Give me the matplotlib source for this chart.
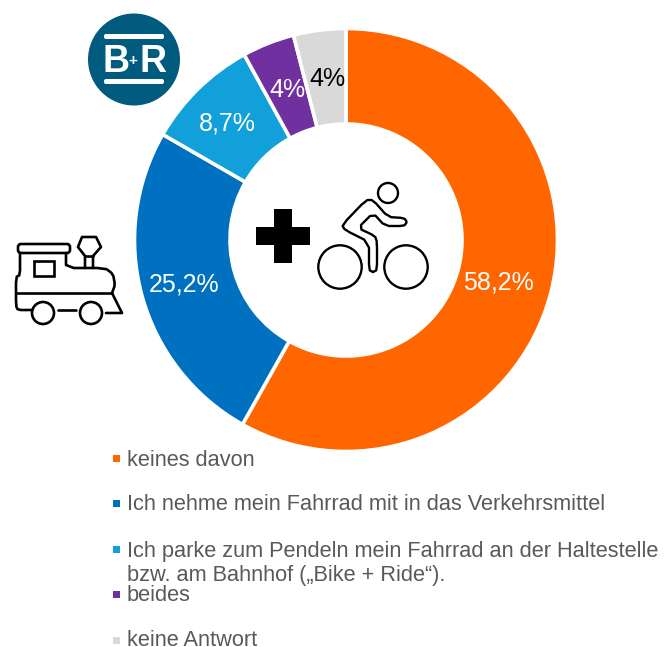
import matplotlib
matplotlib.use('Agg')
import matplotlib.pyplot as plt
from matplotlib.patches import Circle, Rectangle, Polygon, FancyBboxPatch

plt.rcParams['font.family'] = ['Liberation Sans', 'DejaVu Sans']

categories = ['keines davon',
              'Ich nehme mein Fahrrad mit in das Verkehrsmittel',
              'Ich parke zum Pendeln mein Fahrrad an der Haltestelle\nbzw. am Bahnhof („Bike + Ride“).',
              'beides',
              'keine Antwort']
values = [58.2, 25.2, 8.7, 4, 4]
value_labels = ['58,2%', '25,2%', '8,7%', '4%', '4%']
colors = ['#ff6600', '#0070c0', '#11a0d9', '#7030a0', '#d9d9d9']
label_colors = ['white', 'white', 'white', 'white', 'black']
label_nudge = [(-5, -1), (-5, -1), (-5, 0), (1, -1), (2, -1)]
legend_y = [460, 505, 563.5, 595.5, 640]

fig = plt.figure(figsize=(6.65, 6.47), dpi=100)
ax = fig.add_axes([0, 0, 1, 1])


def py(y):
    # picture coordinates have y going down
    return 647 - y


def smooth(points, rounds=1):
    # cut the corners so the icons look rounded
    for _ in range(rounds):
        new = [points[0]]
        for a, b in zip(points[:-1], points[1:]):
            new.append((0.8 * a[0] + 0.2 * b[0], 0.8 * a[1] + 0.2 * b[1]))
            new.append((0.2 * a[0] + 0.8 * b[0], 0.2 * a[1] + 0.8 * b[1]))
        new.append(points[-1])
        points = new
    return points


def line(points, lw=1.9):
    xs = [p[0] for p in points]
    ys = [py(p[1]) for p in points]
    ax.plot(xs, ys, color='black', lw=lw, solid_capstyle='round', solid_joinstyle='round')


wedges, texts = ax.pie(values, colors=colors, startangle=90, counterclock=False,
                       center=(346, py(240)), radius=211.5, frame=True,
                       labels=value_labels, labeldistance=0.77,
                       wedgeprops=dict(width=95.5, edgecolor='white', linewidth=2.6),
                       textprops=dict(fontsize=18, ha='center', va='center'))
ax.set_xlim(0, 665)
ax.set_ylim(0, 647)
ax.set_aspect('equal')
ax.axis('off')
for t, c, n in zip(texts, label_colors, label_nudge):
    t.set_color(c)
    x, y = t.get_position()
    t.set_position((x + n[0], y + n[1]))

# legend
square_y = [462, 507, 553, 598, 644]
for name, y, sq_y, c in zip(categories, legend_y, square_y, colors):
    ax.add_patch(Rectangle((113, py(sq_y)), 7, 7, color=c, lw=0))
    ax.text(127, py(y), name, fontsize=15.7, color='#595959', va='center', ha='left',
            linespacing=1.16)

# B+R logo
ax.add_patch(Circle((134, py(59.5)), 46, color='#005b7f', lw=0))
ax.add_patch(FancyBboxPatch((104, py(39)), 60, 5, boxstyle='round,pad=0,rounding_size=2',
                            color='white', lw=0))
ax.add_patch(FancyBboxPatch((104, py(84)), 60, 5, boxstyle='round,pad=0,rounding_size=2',
                            color='white', lw=0))
ax.text(116, py(61.5), 'B', color='white', fontsize=27, fontweight='bold',
        ha='center', va='center')
ax.text(133, py(61), '+', color='white', fontsize=11, fontweight='bold',
        ha='center', va='center')
ax.text(152.5, py(61.5), 'R', color='white', fontsize=27, fontweight='bold',
        ha='center', va='center')

# plus sign
ax.add_patch(Polygon([(274, py(209)), (292, py(209)), (292, py(227)), (310, py(227)),
                      (310, py(245)), (292, py(245)), (292, py(263)), (274, py(263)),
                      (274, py(245)), (256, py(245)), (256, py(227)), (274, py(227))],
                     color='black', lw=0))

# cyclist
for cx, cy, r in [(340, 267, 21.7), (406, 267, 21.7), (388, 193, 10)]:
    ax.add_patch(Circle((cx, py(cy)), r, fill=False, ec='black', lw=1.7))
line(smooth([(373, 272), (369, 270), (369, 242), (345, 230), (342, 225), (366, 200), (373, 200),
             (388, 217), (404, 218), (407, 222), (404, 226), (385, 226), (373, 213), (358, 228),
             (375, 236), (377, 242), (377, 270), (373, 272)]), lw=1.7)

# locomotive
ax.add_patch(FancyBboxPatch((18, py(253)), 52, 9, boxstyle='round,pad=0,rounding_size=3',
                            fill=False, ec='black', lw=1.9))
ax.add_patch(Rectangle((34, py(276)), 20, 15, fill=False, ec='black', lw=1.9))
ax.add_patch(Circle((43, py(313)), 11, fill=False, ec='black', lw=1.9))
ax.add_patch(Circle((91, py(313)), 11, fill=False, ec='black', lw=1.9))
line(smooth([(20, 253), (20, 275), (16, 277), (16, 306), (18, 310), (32, 310)]))
line([(58, 310), (76, 310)])
line([(106, 313), (122, 313), (112, 293)])
line([(16, 293), (112, 293)])
line(smooth([(66, 253), (66, 268), (105, 268), (113, 274), (115, 285), (112, 293)]))
line([(85, 268), (85, 256), (78, 247), (82, 237), (96, 237), (101, 247), (93, 256), (93, 268)])
line([(85, 256), (93, 256)])

fig.savefig('out.png', dpi=100)
